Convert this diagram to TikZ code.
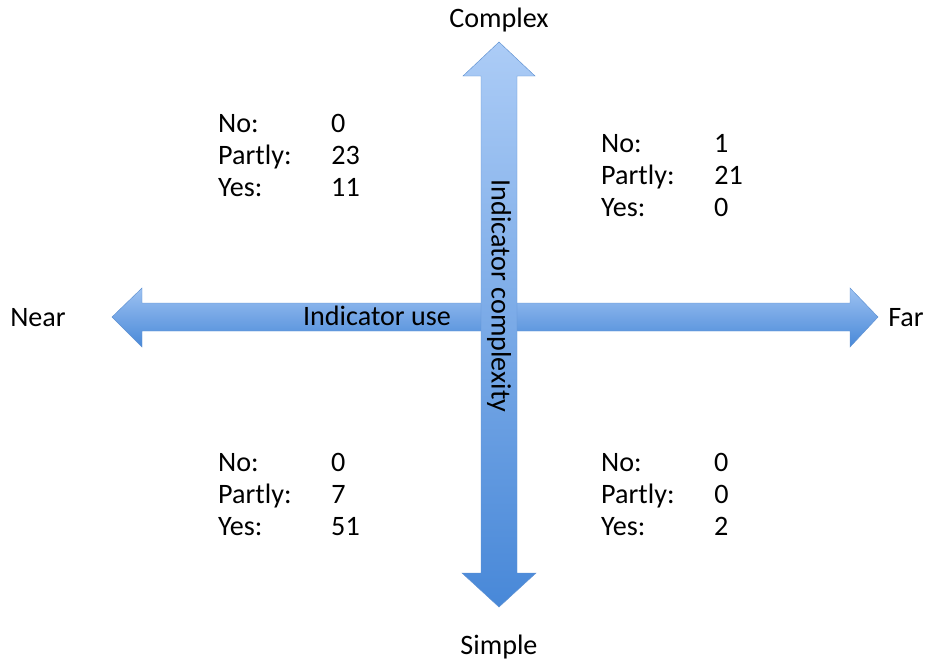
\documentclass[tikz,border=0pt]{standalone}
\usepackage{fontspec}
\setmainfont{Carlito}
\usetikzlibrary{positioning}
\definecolor{arrowlight}{RGB}{172,204,246}
\definecolor{arrowdark}{RGB}{72,136,216}
\definecolor{arrowedge}{RGB}{96,146,210}
\tikzset{
  axisarrow/.style={draw=arrowedge, line width=0.4pt},
  axislabel/.style={font=\fontsize{24}{27}\selectfont, inner sep=0pt},
  counts/.style={font=\fontsize{24}{27.2}\selectfont, inner sep=0pt, anchor=north west, align=left}
}
\newcommand{\quadcounts}[3]{%
  \begin{tabular}{@{}p{3.39cm}@{}l@{}}
    No: & #1 \\
    Partly: & #2 \\
    Yes: & #3
  \end{tabular}}

\begin{document}
\begin{tikzpicture}[x=0.03cm, y=-0.03cm]

    \useasboundingbox (0, 0) rectangle (927, 662);

    % horizontal axis
    \shade [axisarrow, top color=arrowlight!85!arrowdark, bottom color=arrowdark]
      (112, 317) -- (142, 288) -- (142, 303) -- (850, 303) -- (850, 288) -- (878, 317)
      -- (850, 347) -- (850, 331) -- (142, 331) -- (142, 347) -- cycle;

    % vertical axis
    \shade [axisarrow, top color=arrowlight, bottom color=arrowdark]
      (499, 42) -- (535, 76) -- (517, 76) -- (517, 573) -- (536, 573) -- (499, 607)
      -- (462, 573) -- (481, 573) -- (481, 76) -- (463, 76) -- cycle;

    \node (use) [axislabel] at (377, 316) {Indicator use};
    \node (complexity) [axislabel, rotate=-90] at (499, 296) {Indicator complexity};

    \node (complex) [axislabel] at (499, 20) {Complex};
    \node (simple) [axislabel] at (499, 647) {Simple};
    \node (near) [axislabel] at (38, 318) {Near};
    \node (far) [axislabel] at (906, 318) {Far};

    \node (topleft) [counts] at (218, 110) {\quadcounts{0}{23}{11}};
    \node (topright) [counts] at (601, 130) {\quadcounts{1}{21}{0}};
    \node (bottomleft) [counts] at (218, 449) {\quadcounts{0}{7}{51}};
    \node (bottomright) [counts] at (601, 449) {\quadcounts{0}{0}{2}};

\end{tikzpicture}
\end{document}
